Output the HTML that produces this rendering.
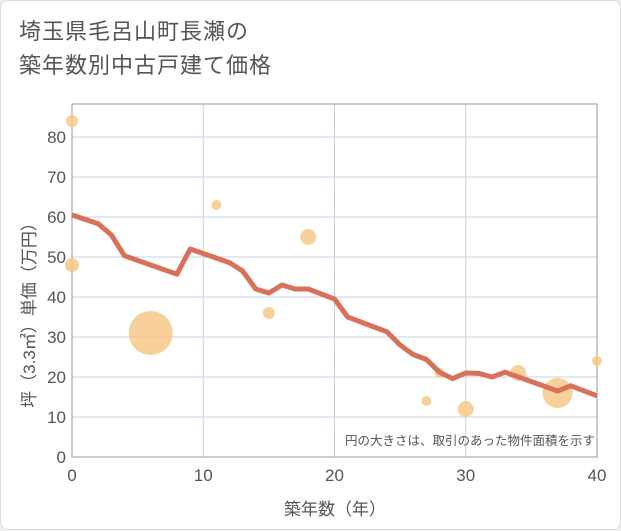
<!DOCTYPE html>
<html><head><meta charset="utf-8"><style>
body{margin:0;background:#eeeeee;font-family:"Liberation Sans","Noto Sans CJK JP",sans-serif;}
#card{position:absolute;left:0;top:0;width:619px;height:528px;background:#fff;border:1px solid #ddd;border-radius:8px;}
#title{position:absolute;left:18px;top:14px;font-size:22px;line-height:34px;color:#555;letter-spacing:1px;}
</style></head><body>
<div id="card">
<div id="title">埼玉県毛呂山町長瀬の<br>築年数別中古戸建て価格</div>
<svg id="chart" width="621" height="530" style="position:absolute;left:0;top:0"></svg>
</div>
<script>
const xTicks=[0,10,20,30,40];
const yTicks=[0,10,20,30,40,50,60,70,80];
const lineYears=[0,2,3,4,8,9,12,13,14,15,16,17,18,20,21,24,25,26,27,28,29,30,31,32,33,37,38,40];
const lineValues=[60.5,58.3,55.5,50.3,45.7,52,48.6,46.5,42,41,43,42,42,39.5,35,31.3,28,25.6,24.4,21.2,19.6,21,20.9,20,21.2,16.5,17.8,15.3];
const dotYears=[0,0,6,11,18,15,27,28,30,34,37,40];
const dotValues=[84,48,31,63,55,36,14,21,12,21,16,24];
const dotSizes=[6,7,22,5,8,6,5,5,8,8,15,5];
const L=71,R=596,T=103,B=456;
const xs=v=>L+(v-0)/40*(R-L);
const ys=v=>456-v*4;
const svg=document.getElementById('chart');
const NS='http://www.w3.org/2000/svg';
function mk(t,a,p){const e=document.createElementNS(NS,t);for(const k in a)e.setAttribute(k,a[k]);(p||svg).appendChild(e);return e;}
yTicks.forEach(v=>{const l=mk('line',{x1:L,x2:R,y1:ys(v),y2:ys(v),stroke:'#c5d3e0','stroke-width':1});


const t=mk('text',{x:L-6,y:ys(v)+6,'text-anchor':'end','font-size':17,fill:'#555'});t.textContent=v;

});
xTicks.forEach(v=>{const l=mk('line',{x1:xs(v),x2:xs(v),y1:T,y2:B,stroke:'#c5d3e0','stroke-width':1});


const t=mk('text',{x:xs(v),y:B+24,'text-anchor':'middle','font-size':17,fill:'#555'});t.textContent=v;

});
const ax=mk('path',{d:`M${L},${T}V${B}H${R}V${T}Z`,fill:'none',stroke:'#999','stroke-width':1});


dotYears.forEach((y,i)=>{const c=mk('circle',{cx:xs(y),cy:ys(dotValues[i]),r:dotSizes[i],fill:'#f5c580','fill-opacity':0.8});

});
const p=mk('polyline',{points:lineYears.map((y,i)=>xs(y)+','+ys(lineValues[i])).join(' '),fill:'none',stroke:'#d9705a','stroke-width':5,'stroke-linejoin':'round'});


const n=mk('text',{x:594,y:444,'text-anchor':'end','font-size':12.5,fill:'#555'});n.textContent='円の大きさは、取引のあった物件面積を示す';


const xt=mk('text',{x:334,y:514,'text-anchor':'middle','font-size':17,fill:'#555'});xt.textContent='築年数（年）';


const yt=mk('text',{x:0,y:0,'text-anchor':'middle','font-size':17,fill:'#555',transform:'translate(34,310) rotate(-90)'});yt.textContent='坪（3.3㎡）単価（万円）';


</script>
</body></html>
